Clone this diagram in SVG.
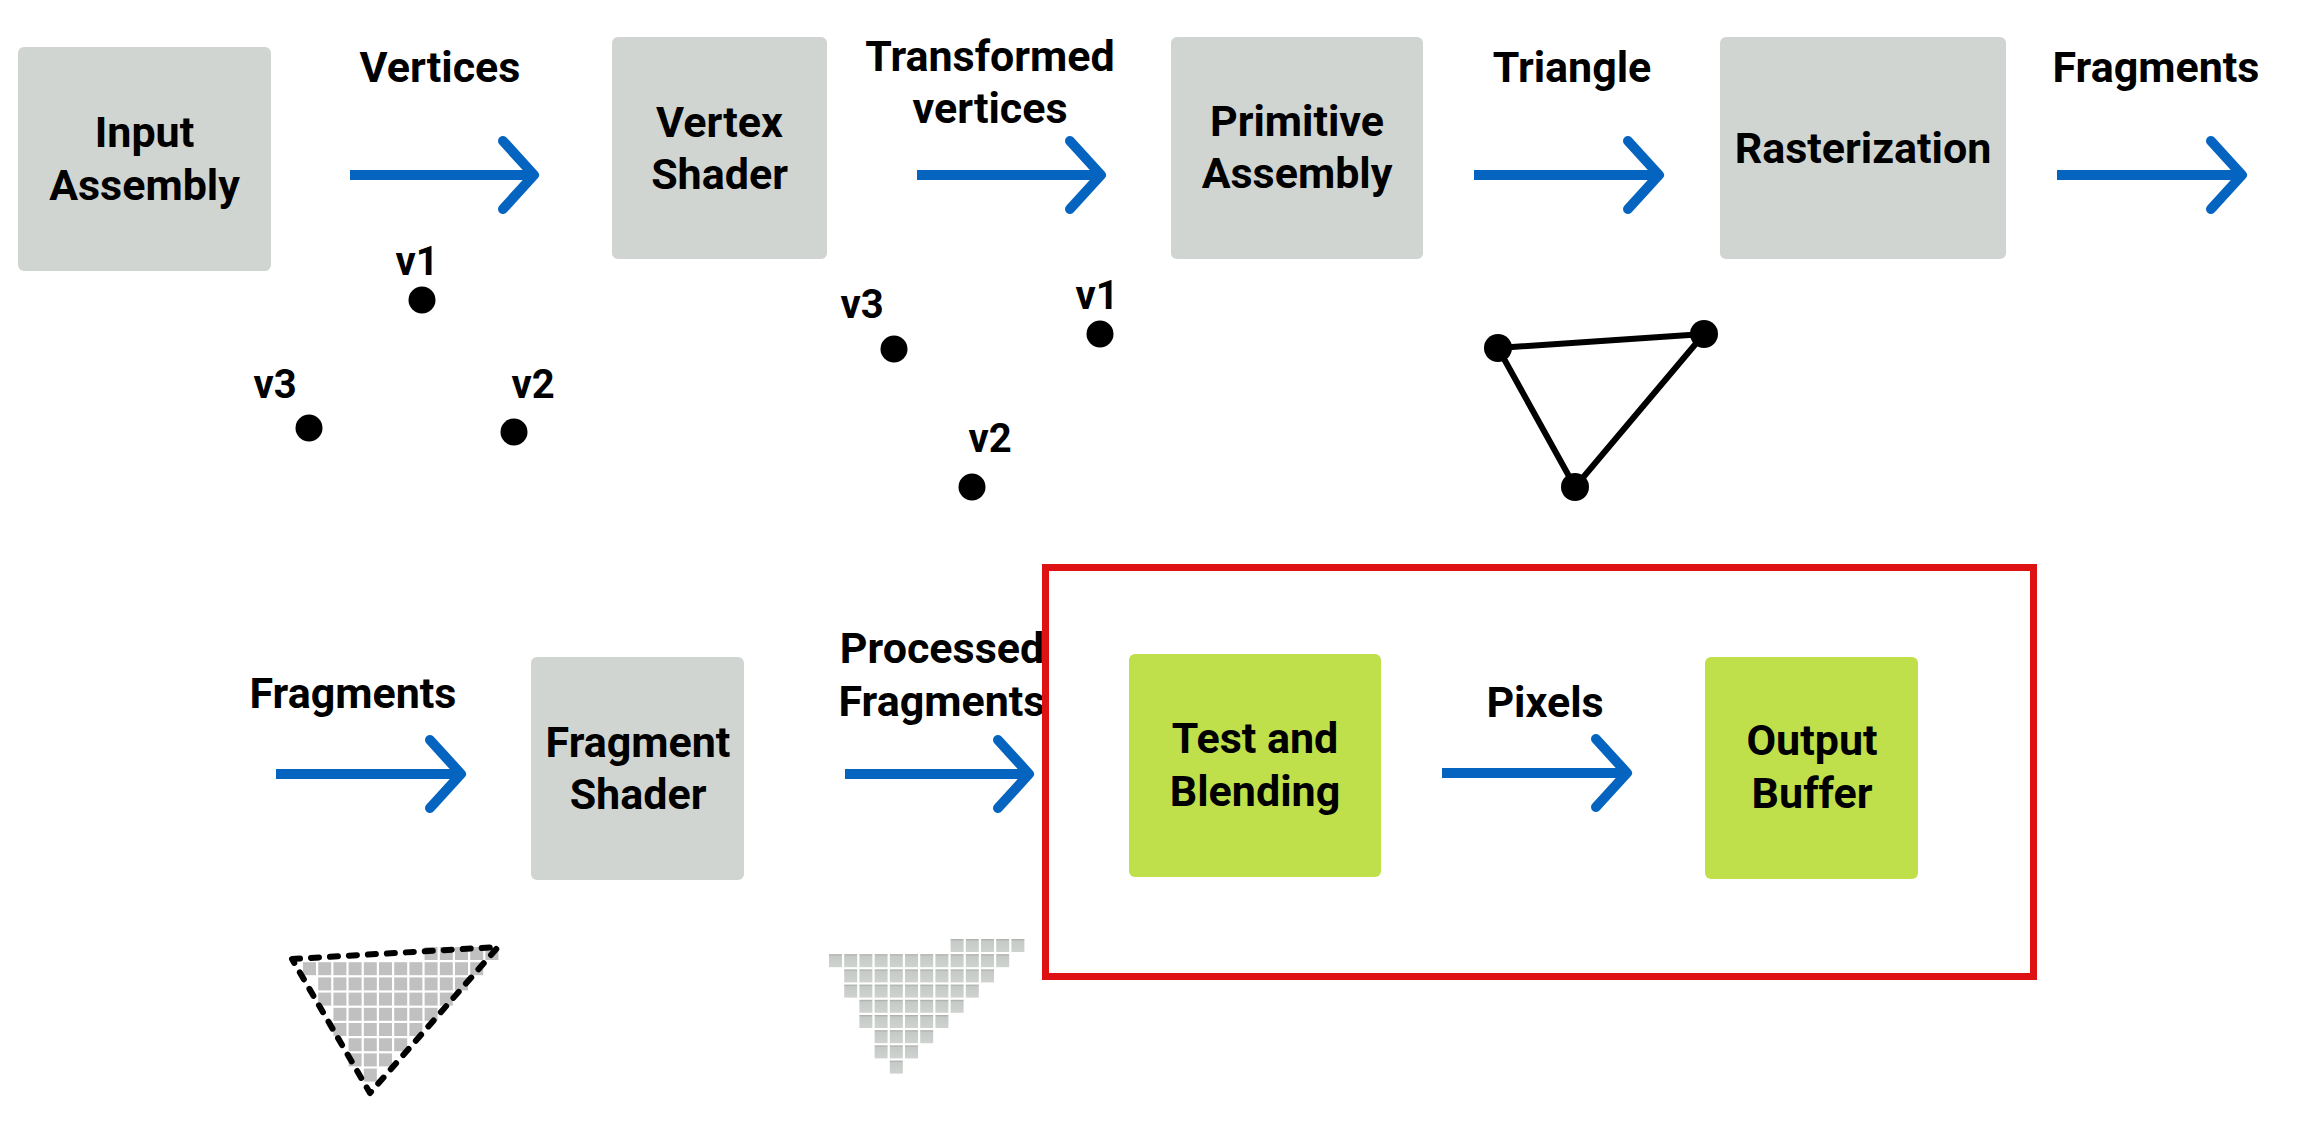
<svg xmlns="http://www.w3.org/2000/svg" xmlns:xlink="http://www.w3.org/1999/xlink" width="2312" height="1128" viewBox="0 0 2312 1128">
<style>
.t{font-family:Roboto,"Liberation Sans",Arial,sans-serif;font-weight:bold;font-size:43px;fill:#000;text-anchor:middle}
.v{font-size:40px}
.box{fill:#d1d5d2}
.gbox{fill:#bfe04b}
.arr{fill:none;stroke:#0564c0;stroke-width:10;stroke-linejoin:round}
.head{stroke-linecap:round}
.dot{fill:#000}
</style>
<defs>
<linearGradient id="pg" x1="0" y1="0" x2="0" y2="1">
<stop offset="0" stop-color="#a6a9a6"/>
<stop offset="0.16" stop-color="#c6cac6"/>
<stop offset="1" stop-color="#cfd3cf"/>
</linearGradient>
<g id="tri">
<rect x="121.6" y="0" width="13" height="13"/><rect x="136.8" y="0" width="13" height="13"/><rect x="152" y="0" width="13" height="13"/><rect x="167.2" y="0" width="13" height="13"/><rect x="182.4" y="0" width="13" height="13"/>
<rect x="0" y="15.2" width="13" height="13"/><rect x="15.2" y="15.2" width="13" height="13"/><rect x="30.4" y="15.2" width="13" height="13"/><rect x="45.6" y="15.2" width="13" height="13"/><rect x="60.8" y="15.2" width="13" height="13"/><rect x="76" y="15.2" width="13" height="13"/><rect x="91.2" y="15.2" width="13" height="13"/><rect x="106.4" y="15.2" width="13" height="13"/><rect x="121.6" y="15.2" width="13" height="13"/><rect x="136.8" y="15.2" width="13" height="13"/><rect x="152" y="15.2" width="13" height="13"/><rect x="167.2" y="15.2" width="13" height="13"/>
<rect x="15.2" y="30.4" width="13" height="13"/><rect x="30.4" y="30.4" width="13" height="13"/><rect x="45.6" y="30.4" width="13" height="13"/><rect x="60.8" y="30.4" width="13" height="13"/><rect x="76" y="30.4" width="13" height="13"/><rect x="91.2" y="30.4" width="13" height="13"/><rect x="106.4" y="30.4" width="13" height="13"/><rect x="121.6" y="30.4" width="13" height="13"/><rect x="136.8" y="30.4" width="13" height="13"/><rect x="152" y="30.4" width="13" height="13"/>
<rect x="15.2" y="45.6" width="13" height="13"/><rect x="30.4" y="45.6" width="13" height="13"/><rect x="45.6" y="45.6" width="13" height="13"/><rect x="60.8" y="45.6" width="13" height="13"/><rect x="76" y="45.6" width="13" height="13"/><rect x="91.2" y="45.6" width="13" height="13"/><rect x="106.4" y="45.6" width="13" height="13"/><rect x="121.6" y="45.6" width="13" height="13"/><rect x="136.8" y="45.6" width="13" height="13"/>
<rect x="30.4" y="60.8" width="13" height="13"/><rect x="45.6" y="60.8" width="13" height="13"/><rect x="60.8" y="60.8" width="13" height="13"/><rect x="76" y="60.8" width="13" height="13"/><rect x="91.2" y="60.8" width="13" height="13"/><rect x="106.4" y="60.8" width="13" height="13"/><rect x="121.6" y="60.8" width="13" height="13"/>
<rect x="30.4" y="76" width="13" height="13"/><rect x="45.6" y="76" width="13" height="13"/><rect x="60.8" y="76" width="13" height="13"/><rect x="76" y="76" width="13" height="13"/><rect x="91.2" y="76" width="13" height="13"/><rect x="106.4" y="76" width="13" height="13"/>
<rect x="45.6" y="91.2" width="13" height="13"/><rect x="60.8" y="91.2" width="13" height="13"/><rect x="76" y="91.2" width="13" height="13"/><rect x="91.2" y="91.2" width="13" height="13"/>
<rect x="45.6" y="106.4" width="13" height="13"/><rect x="60.8" y="106.4" width="13" height="13"/><rect x="76" y="106.4" width="13" height="13"/>
<rect x="60.8" y="121.6" width="13" height="13"/>
</g>
</defs>
<rect width="2312" height="1128" fill="#fff"/>

<g id="connectors">
<g id="a1"><path class="arr" d="M350 175H534"/><path class="arr head" d="M503 141L534 175L503 209"/></g>
<g id="a2"><path class="arr" d="M917 175H1101"/><path class="arr head" d="M1070 141L1101 175L1070 209"/></g>
<g id="a3"><path class="arr" d="M1474 175H1659"/><path class="arr head" d="M1628 141L1659 175L1628 209"/></g>
<g id="a4"><path class="arr" d="M2057 175H2242"/><path class="arr head" d="M2211 141L2242 175L2211 209"/></g>
<g id="a5"><path class="arr" d="M276 774H461"/><path class="arr head" d="M430 740L461 774L430 808"/></g>
<g id="a6"><path class="arr" d="M845 774H1029"/><path class="arr head" d="M998 740L1029 774L998 808"/></g>
<g id="a7"><path class="arr" d="M1442 773H1627"/><path class="arr head" d="M1596 739L1627 773L1596 807"/></g>
</g>

<g id="edge-labels">
<text class="t" x="440" y="82">Vertices</text>
<text class="t" x="990" y="71">Transformed</text>
<text class="t" x="990" y="123">vertices</text>
<text class="t" x="1572" y="82">Triangle</text>
<text class="t" x="2156" y="82">Fragments</text>
<text class="t" x="353" y="708">Fragments</text>
<text class="t" x="942" y="663">Processed</text>
<text class="t" x="942" y="716">Fragments</text>
<text class="t" x="1545" y="717">Pixels</text>
</g>

<g id="input-assembly"><rect class="box" x="18" y="47" width="253" height="224" rx="6"/><text class="t" x="144.5" y="147">Input</text><text class="t" x="144.5" y="200">Assembly</text></g>
<g id="vertex-shader"><rect class="box" x="612" y="37" width="215" height="222" rx="6"/><text class="t" x="719.5" y="137">Vertex</text><text class="t" x="719.5" y="189">Shader</text></g>
<g id="primitive-assembly"><rect class="box" x="1171" y="37" width="252" height="222" rx="6"/><text class="t" x="1297" y="136">Primitive</text><text class="t" x="1297" y="188">Assembly</text></g>
<g id="rasterization"><rect class="box" x="1720" y="37" width="286" height="222" rx="6"/><text class="t" x="1863" y="163">Rasterization</text></g>
<g id="fragment-shader"><rect class="box" x="531" y="657" width="213" height="223" rx="6"/><text class="t" x="638" y="757">Fragment</text><text class="t" x="638" y="809">Shader</text></g>
<g id="test-blending"><rect class="gbox" x="1129" y="654" width="252" height="223" rx="6"/><text class="t" x="1255" y="753">Test and</text><text class="t" x="1255" y="806">Blending</text></g>
<g id="output-buffer"><rect class="gbox" x="1705" y="657" width="213" height="222" rx="6"/><text class="t" x="1812" y="755">Output</text><text class="t" x="1812" y="808">Buffer</text></g>

<g id="vertices-input">
<text class="t v" x="417" y="275">v1</text><circle class="dot" cx="422" cy="300" r="13.5"/>
<text class="t v" x="275" y="398">v3</text><circle class="dot" cx="309" cy="428" r="13.5"/>
<text class="t v" x="533" y="398">v2</text><circle class="dot" cx="514" cy="432" r="13.5"/>
</g>
<g id="vertices-transformed">
<text class="t v" x="862" y="318">v3</text><circle class="dot" cx="894" cy="349" r="13.5"/>
<text class="t v" x="1097" y="309">v1</text><circle class="dot" cx="1100" cy="334" r="13.5"/>
<text class="t v" x="990" y="452">v2</text><circle class="dot" cx="972" cy="487" r="13.5"/>
</g>
<g id="triangle">
<path d="M1498 348L1704 334L1575 487Z" fill="none" stroke="#000" stroke-width="6" stroke-linejoin="round"/>
<circle class="dot" cx="1498" cy="348" r="14"/><circle class="dot" cx="1704" cy="334" r="14"/><circle class="dot" cx="1575" cy="487" r="14"/>
</g>
<g id="fragments-grid">
<use xlink:href="#tri" href="#tri" transform="translate(303 947)" fill="#c0c0c0"/>
<path d="M292 959L498 947L370 1093Z" fill="none" stroke="#000" stroke-width="6" stroke-linecap="round" stroke-linejoin="round" stroke-dasharray="8 11"/>
</g>
<g id="processed-grid">
<use xlink:href="#tri" href="#tri" transform="translate(829 939)" fill="url(#pg)"/>
</g>
<rect id="highlight" x="1045.5" y="567.5" width="988" height="409" fill="none" stroke="#de1212" stroke-width="7"/>
</svg>
